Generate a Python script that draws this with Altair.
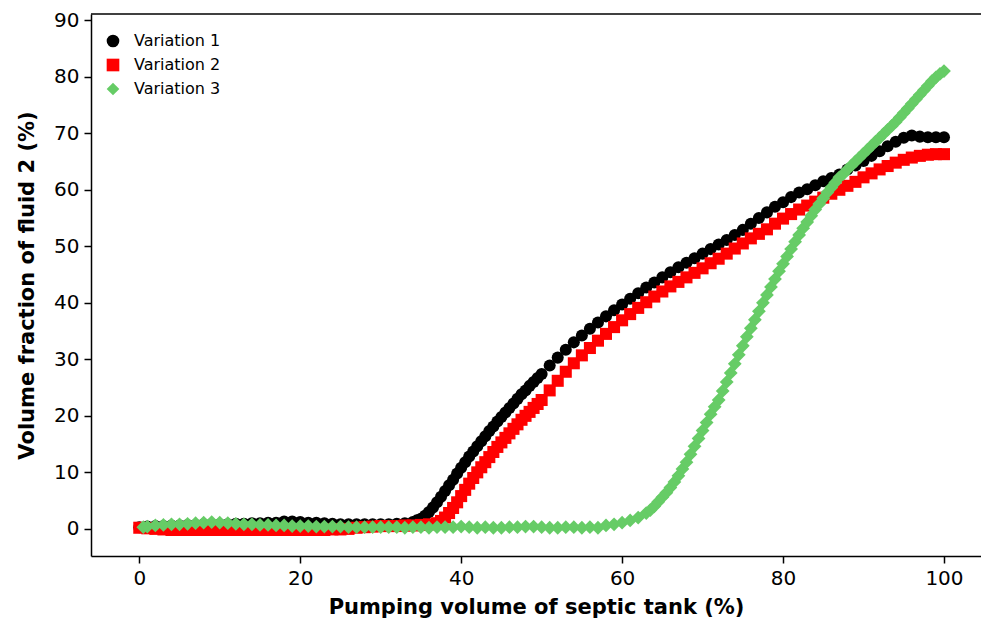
import altair as alt
import pandas as pd

# ---- Variation 1 (black circles) ----
v1_x = [0,1,2,3,4,5,6,7,8,9,10,11,12,13,14,15,16,17,18,19,20,21,22,23,24,25,26,27,28,29,30,31,32,33,34,
        34.5,35,35.5,36,36.5,37,37.5,38,38.5,39,39.5,40,40.5,41,41.5,42,42.5,43,43.5,44,44.5,45,45.5,46,46.5,47,47.5,48,48.5,49,49.5,50,
        51,52,53,54,55,56,57,58,59,60,61,62,63,64,65,66,67,68,69,70,71,72,73,74,75,76,77,78,79,80,
        81,82,83,84,85,86,87,88,89,90,91,92,93,94,95,96,97,98,99,100]
v1_y = [0.3,0.4,0.5,0.5,0.6,0.6,0.7,0.7,0.8,0.8,0.8,0.8,0.9,0.9,1.0,1.0,1.1,1.1,1.3,1.3,1.2,1.1,1.1,1.0,0.9,0.8,0.8,0.8,0.8,0.8,0.8,0.8,0.9,1.0,1.2,
        1.5,1.8,2.3,3.0,3.8,4.7,5.7,6.7,7.7,8.7,9.8,10.8,11.8,12.8,13.7,14.6,15.5,16.4,17.3,18.1,19.0,19.8,20.6,21.4,22.2,23.0,23.8,24.5,25.3,26.0,26.7,27.4,
        28.9,30.3,31.7,33.0,34.2,35.4,36.5,37.6,38.7,39.7,40.7,41.7,42.7,43.6,44.5,45.4,46.3,47.1,47.9,48.7,49.5,50.3,51.1,52.0,52.9,54.0,55.0,56.0,57.0,57.8,
        58.7,59.5,60.1,60.8,61.5,62.1,62.7,63.6,64.3,65.1,66.0,66.8,67.7,68.5,69.2,69.6,69.4,69.3,69.3,69.3]

# ---- Variation 2 (red squares) ----
v2_x = [0,1,2,3,4,5,6,7,8,9,10,11,12,13,14,15,16,17,18,19,20,21,22,23,24,25,26,27,28,29,30,31,32,33,34,35,36,
        37,37.5,38,38.5,39,39.5,40,40.5,41,41.5,42,42.5,43,43.5,44,44.5,45,45.5,46,46.5,47,47.5,48,48.5,49,49.5,50,
        51,52,53,54,55,56,57,58,59,60,61,62,63,64,65,66,67,68,69,70,71,72,73,74,75,76,77,78,79,80,
        81,82,83,84,85,86,87,88,89,90,91,92,93,94,95,96,97,98,99,100]
v2_y = [0.2,0.1,0.0,-0.1,-0.2,-0.2,-0.2,-0.2,-0.2,-0.2,-0.2,-0.2,-0.2,-0.2,-0.2,-0.2,-0.2,-0.2,-0.2,-0.2,-0.2,-0.2,-0.2,-0.2,-0.1,-0.1,0.0,0.2,0.3,0.4,0.5,0.5,0.5,0.6,0.6,0.7,0.8,
        1.0,1.4,2.0,2.8,3.7,4.7,5.8,6.9,8.0,9.0,10.0,10.9,11.8,12.7,13.6,14.5,15.3,16.1,16.9,17.7,18.5,19.3,20.0,20.7,21.4,22.1,22.8,
        24.5,26.2,27.8,29.3,30.7,32.0,33.3,34.5,35.7,36.9,38.0,39.1,40.1,41.1,42.0,42.9,43.7,44.5,45.3,46.1,47.0,47.8,48.7,49.6,50.5,51.4,52.2,53.0,54.0,54.9,
        55.7,56.5,57.2,57.9,58.6,59.3,60.0,60.7,61.4,62.2,62.9,63.6,64.2,64.8,65.3,65.7,66.0,66.2,66.3,66.3]

# ---- Variation 3 (green diamonds) ----
v3_x = [0.5,1,2,3,4,5,6,7,8,9,10,11,12,13,14,15,16,17,18,19,20,21,22,23,24,25,26,27,28,29,30,31,32,33,34,35,36,37,38,39,40,
        41,42,43,44,45,46,47,48,49,50,51,52,53,54,55,56,57,58,59,60,61,62,
        63,63.5,64,64.5,65,65.5,66,66.5,67,67.5,68,68.5,69,69.5,70,70.5,71,71.5,72,72.5,73,73.5,74,74.5,75,75.5,
        76,76.5,77,77.5,78,78.5,79,79.5,80,80.5,81,81.5,82,82.5,83,83.5,84,84.5,85,85.5,86,86.5,87,87.5,88,88.5,
        89,89.5,90,90.5,91,91.5,92,92.5,93,93.5,94,94.5,95,95.5,96,96.5,97,97.5,98,98.5,99,99.5,100]
v3_y = [0.3,0.4,0.6,0.7,0.8,0.8,0.9,1.0,1.1,1.2,1.1,1.0,0.9,0.8,0.8,0.7,0.7,0.6,0.6,0.5,0.5,0.5,0.4,0.4,0.4,0.4,0.3,0.3,0.3,0.3,0.3,0.3,0.3,0.2,0.3,0.3,0.2,0.3,0.3,0.3,0.4,
        0.3,0.2,0.3,0.2,0.2,0.3,0.3,0.4,0.4,0.3,0.2,0.2,0.3,0.3,0.2,0.3,0.2,0.6,0.8,1.1,1.5,2.0,
        2.8,3.3,4.0,4.8,5.6,6.4,7.3,8.3,9.4,10.6,11.8,13.2,14.6,16.0,17.4,18.8,20.3,21.6,22.8,24.4,26.0,27.6,29.2,30.8,32.4,34.0,
        35.5,37.0,38.5,40.0,41.4,42.8,44.2,45.6,46.9,48.2,49.5,50.8,52.0,53.2,54.3,55.4,56.5,57.5,58.5,59.5,60.4,61.3,62.2,62.8,63.6,64.3,
        65.0,65.7,66.4,67.1,67.8,68.5,69.2,69.9,70.6,71.3,72.0,72.8,73.6,74.4,75.2,76.0,76.8,77.6,78.4,79.2,79.9,80.5,81.0]

series_names = ["Variation 1", "Variation 2", "Variation 3"]
series_colors = ["#000000", "#ff0000", "#66cc66"]
series_shapes = ["circle", "square", "diamond"]

x_ticks = [0, 20, 40, 60, 80, 100]
y_ticks = [0, 10, 20, 30, 40, 50, 60, 70, 80, 90]

rows = []
for name, xs, ys in zip(series_names, [v1_x, v2_x, v3_x], [v1_y, v2_y, v3_y]):
    for xv, yv in zip(xs, ys):
        rows.append({"x": xv, "y": yv, "series": name})
df = pd.DataFrame(rows)
df["order"] = range(len(df))

W, H = 890, 542
FONT = "DejaVu Sans"

legend = alt.Legend(orient="none", legendX=14, legendY=19, title=None,
                    labelFontSize=16, labelFont=FONT, labelColor="#000000",
                    symbolSize=160, symbolStrokeWidth=0, rowPadding=8,
                    labelOffset=13)

points = alt.Chart(df).mark_point(filled=True, opacity=1).encode(
    x=alt.X("x:Q", scale=alt.Scale(domain=[-6, 104.6], nice=False, zero=False),
            axis=alt.Axis(values=x_ticks, title="Pumping volume of septic tank (%)", grid=False,
                          domainColor="#000000", domainWidth=1.5, tickColor="#000000", tickWidth=1.5,
                          tickSize=7, labelFontSize=20, labelFont=FONT, labelColor="#000000",
                          labelPadding=5, titleFontSize=21, titleFont=FONT, titleFontWeight="bold",
                          titleColor="#000000", titlePadding=8)),
    y=alt.Y("y:Q", scale=alt.Scale(domain=[-4.8, 91.1], nice=False, zero=False),
            axis=alt.Axis(values=y_ticks, title="Volume fraction of fluid 2 (%)", grid=False,
                          domainColor="#000000", domainWidth=1.5, tickColor="#000000", tickWidth=1.5,
                          tickSize=7, labelFontSize=20, labelFont=FONT, labelColor="#000000",
                          labelPadding=5, titleFontSize=21, titleFont=FONT, titleFontWeight="bold",
                          titleColor="#000000", titlePadding=16)),
    color=alt.Color("series:N", scale=alt.Scale(domain=series_names, range=series_colors), legend=legend),
    shape=alt.Shape("series:N", scale=alt.Scale(domain=series_names, range=series_shapes), legend=legend),
    size=alt.condition(alt.datum.series == "Variation 3", alt.value(190), alt.value(145)),
    order=alt.Order("order:Q"),
)

top_line = alt.Chart(pd.DataFrame({"a": [0]})).mark_rule(color="#000000", strokeWidth=1.5).encode(
    x=alt.value(0), x2=alt.value(W), y=alt.value(0)
)

chart = alt.layer(points, top_line).properties(
    width=W, height=H,
    autosize=alt.AutoSizeParams(type="none"),
    padding={"left": 91, "top": 14, "right": 0, "bottom": 72},
).configure_view(stroke=None)

chart.save("out.html", embed_options={"renderer": "svg", "actions": False})
